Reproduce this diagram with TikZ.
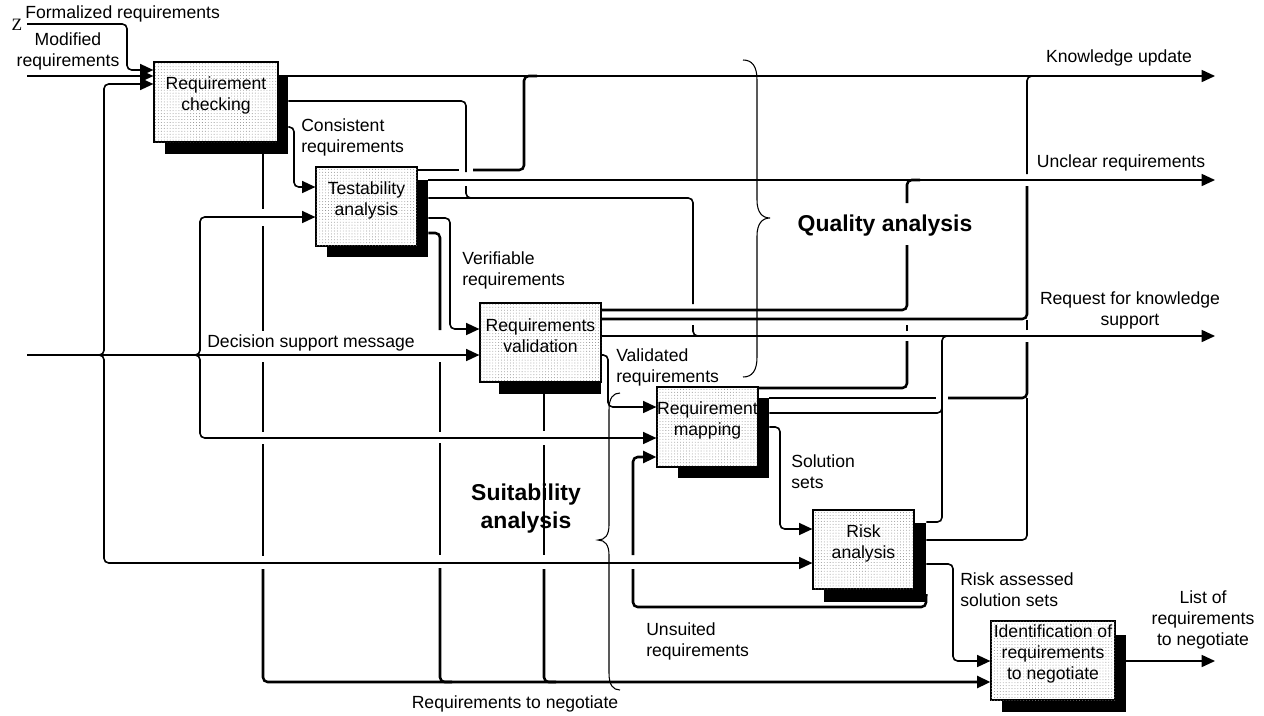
\documentclass[tikz,border=0pt]{standalone}
\usepackage{fontspec}
\setmainfont{Liberation Sans}
\newfontfamily\zfont{Liberation Serif}
\usetikzlibrary{arrows.meta,patterns.meta,fit}
\newcommand\lblfont{\fontsize{13.2}{15.8}\selectfont}
\newcommand\hdfont{\fontsize{17.2}{21}\selectfont\bfseries}
\begin{document}
\begin{tikzpicture}[x=0.75pt,y=-0.75pt,
  ln/.style={line width=1.2pt, rounded corners=3.5pt},
  tk/.style={line width=1.9pt, rounded corners=3.5pt},
  ar/.style={-{Triangle[length=10pt,width=9pt]}},
  shadebox/.style={fill=black, inner sep=0pt},
  procbox/.style={draw=black, line width=0.9pt, fill=white, inner sep=0pt, align=center, font=\lblfont,
     postaction={pattern={Dots[distance=2.2pt,radius=0.33pt]}, pattern color=black!50}},
  lbl/.style={font=\lblfont, inner sep=0pt},
  hd/.style={font=\hdfont, inner sep=0pt},
  brace/.style={line width=0.8pt},
]
\path[use as bounding box] (0,0) rectangle (1264,715);

% ---------- shadows ----------
\node[shadebox, fit={(165,75)(288,154)}] (s1) {};
\node[shadebox, fit={(327,180)(428,257)}] (s2) {};
\node[shadebox, fit={(499,315)(601,394)}] (s3) {};
\node[shadebox, fit={(678,398)(769,478)}] (s4) {};
\node[shadebox, fit={(824,523)(926,602)}] (s5) {};
\node[shadebox, fit={(1002,635)(1126,712)}] (s6) {};

% ---------- boxes ----------
\node[procbox, fit={(154,62)(278,142)}] (b1) {Requirement\\checking};
\node[procbox, fit={(316,167)(417,246)}] (b2) {Testability\\analysis};
\node[procbox, fit={(480,303)(601,382)}] (b3) {Requirements\\validation};
\node[procbox, fit={(657,387)(758,467)}] (b4) {Requirement\\mapping};
\node[procbox, fit={(813,510)(914,589)}] (b5) {Risk\\analysis};
\node[procbox, fit={(991,621)(1115,700)}] (b6) {Identification of\\requirements\\to negotiate};

% ---------- free ends ----------
\coordinate (in1) at (27,24);
\coordinate (in2) at (27,76);
\coordinate (in3) at (27,355);
\coordinate (ku) at (1215,76);
\coordinate (ur) at (1215,180);
\coordinate (rk) at (1215,336);
\coordinate (lr) at (1215,661);

% ---------- inputs from the left ----------
\draw[ln,ar] (in1) -- (127,24) -- (127,70) -- (b1.west |- 0,70);
\draw[ln,ar] (in2) -- (b1.west |- 0,76);
\draw[ln,ar] (in3) -- (b3.west |- 0,355);
\draw[ln,ar] (in3) -- (104,355) -- (104,84) -- (b1.west |- 0,84);
\draw[ln,ar] (in3) -- (104,355) -- (104,563) -- (b5.west |- 0,563);
\draw[ln,ar] (104,355) -- (200,355) -- (200,217) -- (b2.west |- 0,217);
\draw[ln,ar] (104,355) -- (200,355) -- (200,438) -- (b4.west |- 0,438);

% ---------- Requirement checking outputs ----------
\draw[ln,ar] (s1.east |- 0,76) -- (ku);
\draw[ln] (s1.east |- 0,101) -- (466,101) -- (466,172);
\draw[ln] (466,186) -- (466,198) -- (480,198);
\draw[ln,ar] (s1.east |- 0,127) -- (294,127) -- (294,187) -- (b2.west |- 0,187);
\draw[tk] (s1.south -| 263,0) -- (263,209);
\draw[tk] (263,226) -- (263,331);
\draw[tk] (263,362) -- (263,432);
\draw[tk] (263,444) -- (263,556);
\draw[tk,ar] (263,569) -- (263,682) -- (b6.west |- 0,682);

% ---------- Testability analysis outputs ----------
\draw[tk] (b2.east |- 0,170) -- (459,170);
\draw[tk] (473,170) -- (524,170) -- (524,76) -- (537,76);
\draw[ln,ar] (s2.east |- 0,180) -- (ur);
\draw[ln] (s2.east |- 0,198) -- (693,198) -- (693,304);
\draw[ln] (693,325) -- (693,336) -- (706,336);
\draw[ln,ar] (s2.east |- 0,218) -- (450,218) -- (450,329) -- (b3.west |- 0,329);
\draw[tk] (s2.east |- 0,233) -- (440,233) -- (440,330);
\draw[tk] (440,362) -- (440,432);
\draw[tk] (440,443) -- (440,555);
\draw[tk] (440,568) -- (440,682) -- (452,682);

% ---------- Requirements validation outputs ----------
\draw[tk] (b3.east |- 0,310) -- (907,310) -- (907,245);
\draw[tk] (907,203) -- (907,180) -- (920,180);
\draw[tk] (b3.east |- 0,319) -- (1027,319) -- (1027,186);
\draw[ln] (1027,174) -- (1027,76) -- (1040,76);
\draw[ln,ar] (b3.east |- 0,336) -- (rk);
\draw[ln,ar] (b3.east |- 0,355) -- (608,355) -- (608,407) -- (b4.west |- 0,407);
\draw[tk] (s3.south -| 544,0) -- (544,431);
\draw[tk] (544,445) -- (544,555);
\draw[tk] (544,569) -- (544,682) -- (556,682);

% ---------- Requirement mapping outputs ----------
\draw[tk] (b4.east |- 0,388) -- (907,388) -- (907,341);
\draw[tk] (907,331) -- (907,325);
\draw[tk] (s4.east |- 0,398) -- (936,398);
\draw[tk] (948,398) -- (1027,398) -- (1027,342);
\draw[tk] (1027,330) -- (1027,320);
\draw[ln] (s4.east |- 0,413) -- (942,413) -- (942,400);
\draw[ln,ar] (s4.east |- 0,427) -- (780,427) -- (780,529) -- (b5.west |- 0,529);

% ---------- Risk analysis outputs ----------
\draw[ln] (s5.east |- 0,522) -- (942,522) -- (942,336) -- (955,336);
\draw[ln] (s5.east |- 0,540) -- (1027,540) -- (1027,398);
\draw[ln,ar] (s5.east |- 0,564) -- (953,564) -- (953,661) -- (b6.west |- 0,661);
\draw[tk] (s5.east |- 0,594) -- (926,607) -- (633,607) -- (633,569);
\draw[tk,ar] (633,555) -- (633,457) -- (b4.west |- 0,457);

% ---------- Identification output ----------
\draw[ln,ar] (s6.east |- 0,661) -- (lr);

% ---------- braces ----------
\draw[brace] (743,60) .. controls (752,60) and (757,66) .. (757,80) -- (757,200)
  .. controls (757,212) and (762,218) .. (770,218)
  .. controls (762,218) and (757,224) .. (757,236) -- (757,357)
  .. controls (757,371) and (752,377) .. (743,377);
\draw[brace] (620,393) .. controls (613,393) and (609,398) .. (609,410) -- (609,525)
  .. controls (609,535) and (605,540) .. (598,540)
  .. controls (605,540) and (609,545) .. (609,555) -- (609,673)
  .. controls (609,685) and (613,690) .. (620,690);

% ---------- labels ----------
\node[font=\zfont\fontsize{13}{13}\selectfont, inner sep=0pt] (tZ) at (17,25) {Z};
\node[lbl, anchor=west] (tFR) at (25,14) {Formalized requirements};
\node[lbl, align=center] (tMR) at (68,51) {Modified\\requirements};
\node[lbl, align=left, anchor=west] (tCR) at (301,137) {Consistent\\requirements};
\node[lbl, align=left, anchor=west] (tVR) at (462,270) {Verifiable\\requirements};
\node[lbl, anchor=west] (tDS) at (207,343) {Decision support message};
\node[lbl, align=left, anchor=west] (tVa) at (616,367) {Validated\\requirements};
\node[lbl, align=left, anchor=west] (tSS) at (791,472) {Solution\\sets};
\node[lbl, align=left, anchor=west] (tRA) at (960,590) {Risk assessed\\solution sets};
\node[lbl, align=left, anchor=west] (tUR) at (646,641) {Unsuited\\requirements};
\node[lbl] (tRN) at (515,704) {Requirements to negotiate};
\node[lbl] (tKU) at (1119,58) {Knowledge update};
\node[lbl] (tUC) at (1121,163) {Unclear requirements};
\node[lbl, align=center] (tRK) at (1130,310) {Request for knowledge\\support};
\node[lbl, align=center] (tLR) at (1203,620) {List of\\requirements\\to negotiate};
\node[hd] (tQA) at (885,226) {Quality analysis};
\node[hd, align=center] (tSA) at (526,509) {Suitability\\analysis};
\end{tikzpicture}
\end{document}
